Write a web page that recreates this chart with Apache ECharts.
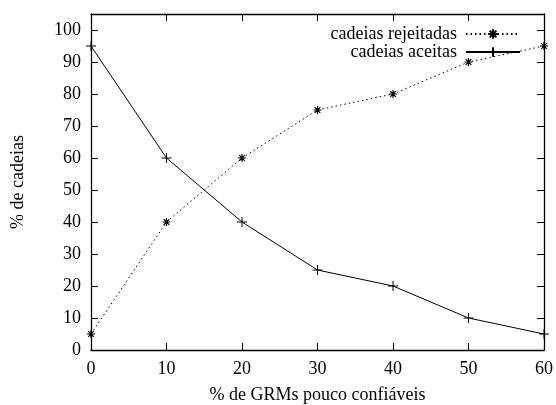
<!DOCTYPE html>
<html>
<head>
<meta charset="utf-8">
<script src="https://cdn.jsdelivr.net/npm/echarts@6/dist/echarts.min.js"></script>
<style>
html,body{margin:0;padding:0;background:#fff;}
#chart{width:556px;height:405px;}
</style>
</head>
<body>
<div id="chart"></div>
<script>
let xValues = [0, 10, 20, 30, 40, 50, 60];
let rejeitadas = [5, 40, 60, 75, 80, 90, 95];
let aceitas = [95, 60, 40, 25, 20, 10, 5];
let seriesNames = ['cadeias rejeitadas', 'cadeias aceitas'];

let myChart = echarts.init(document.getElementById('chart'));
let font = 'Liberation Serif, Times New Roman, serif';
let starPath = 'path://M0 5L10 5M5 0L5 10M1.5 1.5L8.5 8.5M1.5 8.5L8.5 1.5';
let plusPath = 'path://M0 5L10 5M5 0L5 10';

function pairs(ys) {
    return xValues.map(function (x, i) { return [x, ys[i]]; });
}

let tickStyle = {show: true, inside: true, length: 7, lineStyle: {color: '#000', width: 1}};
let axisLine = {show: true, onZero: false, lineStyle: {color: '#000', width: 1.3}};
let labelStyle = {fontFamily: font, fontSize: 18, color: '#000'};

let option = {
    animation: false,
    backgroundColor: '#fff',
    textStyle: {fontFamily: font},
    grid: {left: 91, right: 12, top: 14, bottom: 55, outerBoundsMode: 'none', containLabel: false},
    legend: {
        data: seriesNames,
        orient: 'vertical',
        right: 30,
        top: 20,
        align: 'right',
        itemWidth: 54,
        itemHeight: 12,
        itemGap: 0,
        textStyle: {fontFamily: font, fontSize: 18, color: '#000', padding: [0, 4, 0, 0]}
    },
    xAxis: [{
        type: 'value',
        min: 0, max: 60, interval: 10,
        name: '% de GRMs pouco confiáveis',
        nameLocation: 'middle',
        nameGap: 36,
        nameTextStyle: labelStyle,
        axisLine: axisLine,
        axisTick: tickStyle,
        axisLabel: Object.assign({margin: 10}, labelStyle),
        splitLine: {show: false}
    }, {
        type: 'value', position: 'top',
        min: 0, max: 60, interval: 10,
        axisLine: axisLine,
        axisTick: tickStyle,
        axisLabel: {show: false},
        splitLine: {show: false}
    }],
    yAxis: [{
        type: 'value',
        min: 0, max: 105, interval: 10,
        name: '% de cadeias',
        nameLocation: 'middle',
        nameGap: 64,
        nameTextStyle: labelStyle,
        axisLine: axisLine,
        axisTick: tickStyle,
        axisLabel: Object.assign({margin: 10,
            formatter: function (v) { return v > 100 ? '' : v; }}, labelStyle),
        splitLine: {show: false}
    }, {
        type: 'value', position: 'right',
        min: 0, max: 105, interval: 10,
        axisLine: axisLine,
        axisTick: tickStyle,
        axisLabel: {show: false},
        splitLine: {show: false}
    }],
    series: [{
        name: seriesNames[0],
        type: 'line',
        data: pairs(rejeitadas),
        symbol: starPath,
        symbolSize: 8,
        showAllSymbol: true,
        lineStyle: {color: '#000', width: 1, type: [1.5, 3]},
        itemStyle: {color: 'rgba(0,0,0,0)', borderColor: '#000', borderWidth: 1.2}
    }, {
        name: seriesNames[1],
        type: 'line',
        data: pairs(aceitas),
        symbol: plusPath,
        symbolSize: 10,
        showAllSymbol: true,
        lineStyle: {color: '#000', width: 1},
        itemStyle: {color: 'rgba(0,0,0,0)', borderColor: '#000', borderWidth: 1}
    }]
};
myChart.setOption(option);
</script>
</body>
</html>
